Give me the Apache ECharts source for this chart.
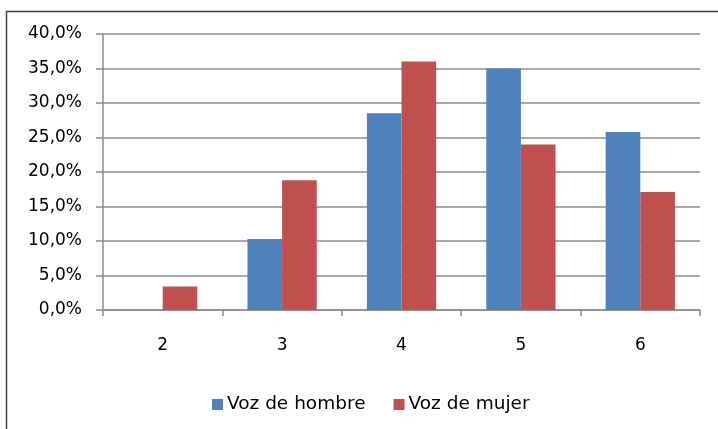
<!DOCTYPE html>
<html>
<head>
<meta charset="utf-8">
<script src="https://cdn.jsdelivr.net/npm/echarts@6/dist/echarts.min.js"></script>
<style>
  html, body { margin: 0; padding: 0; background: #fff; }
  #chart { width: 718px; height: 429px; }
</style>
</head>
<body>
<div id="chart"></div>
<script>
  // datos (porcentajes)
  const categorias = ['2', '3', '4', '5', '6']
  const vozHombre = [0, 10.3, 28.5, 35.0, 25.8]
  const vozMujer = [3.4, 18.8, 36.0, 24.0, 17.1]
  const yTicks = { min: 0, max: 40, interval: 5 }

  const font = 'DejaVu Sans'
  const myChart = echarts.init(document.getElementById('chart'))

  const option = {
    animation: false,
    textStyle: { fontFamily: font },
    graphic: [
      {
        // borde del area del grafico (estilo Excel)
        type: 'rect',
        shape: { x: 6.5, y: 11.5, width: 760, height: 460 },
        style: { fill: 'none', stroke: '#404040', lineWidth: 1.5 },
        silent: true
      }
    ],
    grid: { left: 103, right: 18, top: 34, bottom: 119 },
    legend: {
      data: ['Voz de hombre', 'Voz de mujer'],
      left: 207,
      top: 390,
      icon: 'rect',
      itemWidth: 11,
      itemHeight: 11,
      itemGap: 28,
      textStyle: { fontFamily: font, fontSize: 18.5, color: '#000', padding: [0, 0, 0, -1] }
    },
    xAxis: {
      type: 'category',
      data: categorias,
      axisLine: { lineStyle: { color: '#8c8c8c', width: 1.5 } },
      axisTick: { show: true, length: 6, alignWithLabel: false, lineStyle: { color: '#8c8c8c', width: 1.5 } },
      axisLabel: { fontFamily: font, fontSize: 17, color: '#000', margin: 27 }
    },
    yAxis: {
      type: 'value',
      min: yTicks.min,
      max: yTicks.max,
      interval: yTicks.interval,
      axisLine: { show: true, lineStyle: { color: '#8c8c8c', width: 1.5 } },
      axisTick: { show: true, length: 7, lineStyle: { color: '#8c8c8c', width: 1.5 } },
      splitLine: { lineStyle: { color: '#8c8c8c', width: 1.5 } },
      axisLabel: {
        fontFamily: font,
        fontSize: 17,
        color: '#000',
        margin: 21,
        formatter: v => v.toFixed(1).replace('.', ',') + '%'
      }
    },
    series: [
      {
        name: 'Voz de hombre',
        type: 'bar',
        data: vozHombre,
        barGap: '0%',
        barCategoryGap: '42%',
        itemStyle: { color: '#4F81BD' }
      },
      {
        name: 'Voz de mujer',
        type: 'bar',
        data: vozMujer,
        itemStyle: { color: '#C0504D' }
      }
    ]
  }
  myChart.setOption(option)
</script>
</body>
</html>
